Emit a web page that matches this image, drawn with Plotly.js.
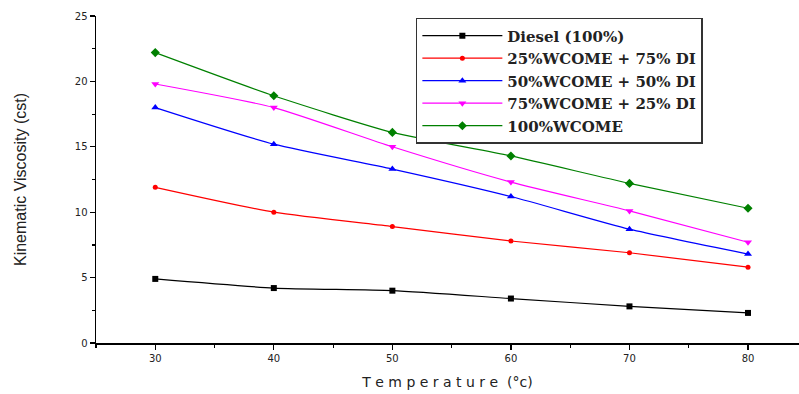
<!DOCTYPE html>
<html><head><meta charset="utf-8">
<script src="https://cdn.plot.ly/plotly-3.0.1.min.js"></script>
<style>html,body{margin:0;padding:0;background:#fff}</style>
</head><body>
<div id="chart" style="width:799px;height:394px"></div>
<script>
const temperature = [30, 40, 50, 60, 70, 80];
const diesel = [4.9, 4.2, 4.0, 3.4, 2.8, 2.3];
const wc25 = [11.9, 10.0, 8.9, 7.8, 6.9, 5.8];
const wc50 = [18.0, 15.2, 13.3, 11.2, 8.7, 6.8];
const wc75 = [19.8, 18.0, 15.0, 12.3, 10.1, 7.7];
const wc100 = [22.2, 18.9, 16.1, 14.3, 12.2, 10.3];
const names = ["Diesel (100%)", "25%WCOME + 75% DI", "50%WCOME + 50% DI", "75%WCOME + 25% DI", "100%WCOME"];

const series = [diesel, wc25, wc50, wc75, wc100];
const colors = ["#000000", "#ff0000", "#0000ff", "#ff00ff", "#008000"];
const symbols = ["square", "circle", "triangle-up", "triangle-down", "diamond"];
const sizes = [6, 5, 7, 7, 7];

const traces = series.map((s, i) => ({
  x: temperature, y: s, name: names[i], type: "scatter", mode: "lines+markers",
  line: {color: colors[i], width: 1.2, shape: "spline", smoothing: 0.6},
  marker: {symbol: symbols[i], size: sizes[i], color: colors[i]}
}));

const layout = {
  width: 799, height: 394,
  margin: {l: 96, r: 0, t: 16, b: 51},
  paper_bgcolor: "#fff", plot_bgcolor: "#fff",
  showlegend: true,
  legend: {x: 0.455, y: 0.994, xanchor: "left", yanchor: "top",
    bordercolor: "#333", borderwidth: 1.5, bgcolor: "#fff",
    font: {family: "DejaVu Serif", size: 15, color: "#222", weight: "bold"},
    tracegroupgap: 0, itemwidth: 80},
  xaxis: {range: [25, 84.3], showgrid: false, zeroline: false,
    showline: true, linecolor: "#000", linewidth: 1.5,
    ticks: "outside", ticklen: 5, tickwidth: 1.2, tickcolor: "#000",
    tickvals: temperature, ticktext: temperature.map(String),
    minor: {ticks: "outside", ticklen: 3, dtick: 5, tick0: 25, tickcolor: "#000"},
    tickfont: {family: "DejaVu Sans", size: 10, color: "#222"},
    title: {text: "T e m p e r a t u r e  (°c)", font: {family: "DejaVu Sans", size: 14, color: "#222"}, standoff: 14}},
  yaxis: {range: [0, 25], showgrid: false, zeroline: false,
    showline: true, linecolor: "#000", linewidth: 1.5,
    ticks: "outside", ticklen: 5, tickwidth: 1.2, tickcolor: "#000",
    dtick: 5, minor: {ticks: "outside", ticklen: 3, dtick: 2.5, tickcolor: "#000"},
    tickfont: {family: "DejaVu Sans", size: 10, color: "#222"},
    title: {text: "Kinematic Viscosity (cst)", font: {family: "Liberation Sans Narrow, Liberation Sans", size: 16, color: "#222"}, standoff: 44}}
};
Plotly.newPlot("chart", traces, layout, {displayModeBar: false, staticPlot: true});
</script>
</body></html>
